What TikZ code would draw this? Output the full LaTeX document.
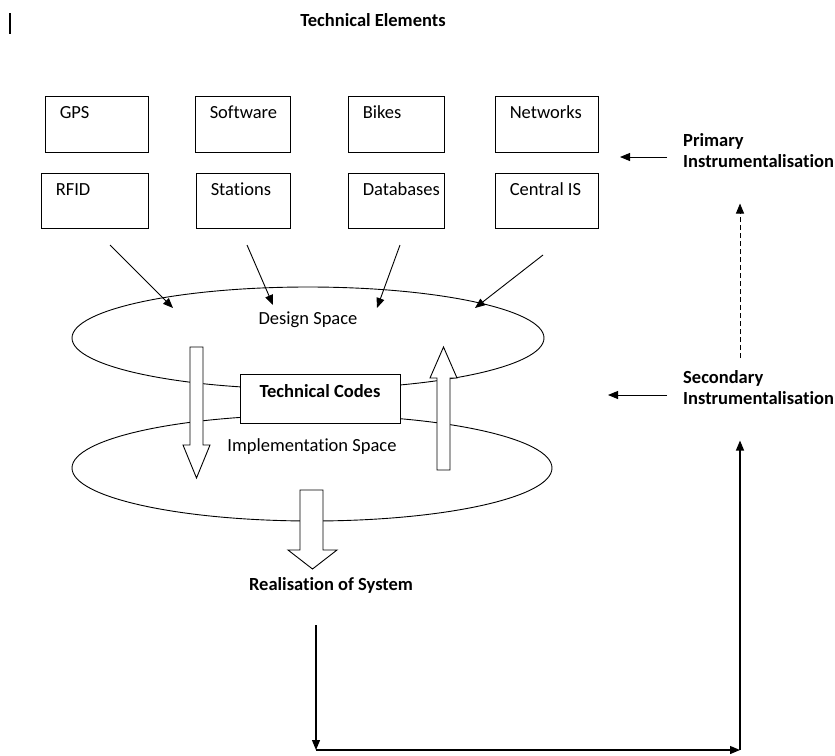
\documentclass[tikz,border=0pt]{standalone}
\usepackage{fontspec}
\setmainfont{Carlito}[Ligatures=NoCommon]
\usetikzlibrary{arrows.meta, shapes.geometric}

\tikzset{
  txt/.style={font=\fontsize{18.5}{21}\selectfont, inner sep=0pt},
  bold/.style={font=\fontsize{18.5}{21}\selectfont\bfseries, inner sep=0pt},
  elem/.style={draw, line width=0.9pt, minimum height=56pt, inner sep=0pt},
  elemtext/.style={txt, anchor=west, xshift=15pt, yshift=-17pt},
  space/.style={draw, ellipse, line width=0.9pt, inner sep=0pt},
  arr/.style={-{Triangle[length=10pt,width=8pt]}, line width=0.9pt},
  hollow/.style={draw, fill=white, line width=0.9pt},
}

\begin{document}
\begin{tikzpicture}[x=1pt, y=-1pt]
  \useasboundingbox (0,0) rectangle (835,755);
  \draw[line width=1.3pt] (10,13) -- (10,34);

  \node[bold] (title) at (373,20) {Technical Elements};

  % technical elements
  \node[elem, minimum width=103pt, label={[elemtext]north west:GPS}] (gps) at (96.5,124) {};
  \node[elem, minimum width=95pt, label={[elemtext]north west:Software}] (software) at (242.5,124) {};
  \node[elem, minimum width=96pt, label={[elemtext]north west:Bikes}] (bikes) at (396,124) {};
  \node[elem, minimum width=103pt, label={[elemtext]north west:Networks}] (networks) at (546.5,124) {};
  \node[elem, minimum width=107pt, minimum height=55pt, label={[elemtext]north west:RFID}] (rfid) at (94.5,200.5) {};
  \node[elem, minimum width=94pt, minimum height=55pt, label={[elemtext]north west:Stations}] (stations) at (243,200.5) {};
  \node[elem, minimum width=96pt, minimum height=55pt, label={[elemtext]north west:Databases}] (databases) at (396,200.5) {};
  \node[elem, minimum width=103pt, minimum height=55pt, label={[elemtext]north west:Central IS}] (central) at (546.5,200.5) {};

  % spaces
  \node[space, minimum width=472pt, minimum height=102pt,
        label={[txt, yshift=18pt]center:Design Space}] (design) at (308,338) {};
  \node[space, minimum width=480pt, minimum height=106pt,
        label={[txt, yshift=21pt]center:Implementation Space}] (impl) at (312,468) {};

  \coordinate (in1) at (110,245);  \coordinate (out1) at (173,308);
  \coordinate (in2) at (247,245);  \coordinate (out2) at (273,305);
  \coordinate (in3) at (400,245);  \coordinate (out3) at (377,308);
  \coordinate (in4) at (543,255);  \coordinate (out4) at (475,308);
  \draw[arr] (in1) -- (out1);
  \draw[arr] (in2) -- (out2);
  \draw[arr] (in3) -- (out3);
  \draw[arr] (in4) -- (out4);

  \node[draw, fill=white, line width=0.9pt, bold, minimum width=160pt, minimum height=49pt,
        text height=13pt, text depth=15pt] (codes) at (320,398.5) {Technical Codes};

  % hollow arrows
  \draw[hollow] (190,347) -- (203,347) -- (203,445) -- (210,445) -- (196.5,478)
    -- (183,445) -- (190,445) -- cycle;
  \draw[hollow] (437,470) -- (450,470) -- (450,378) -- (457,378) -- (443.5,347)
    -- (430,378) -- (437,378) -- cycle;
  \draw[hollow] (300,490) -- (323,490) -- (323,550) -- (337,550) -- (312.5,569)
    -- (288,550) -- (300,550) -- cycle;

  \node[bold] (real) at (331,585) {Realisation of System};

  % instrumentalisation
  \node[bold, align=left, anchor=north west] (prim) at (683,133) {Primary\\Instrumentalisation};
  \node[bold, align=left, anchor=north west] (sec) at (683,370) {Secondary\\Instrumentalisation};

  \coordinate (ptip) at (620,157);
  \coordinate (stip) at (608,395);
  \draw[arr, shorten <=16pt] (prim.west |- ptip) -- (ptip);
  \draw[arr, shorten <=16pt] (sec.west |- stip) -- (stip);
  \draw[arr, dash pattern=on 5pt off 3pt] ([xshift=57pt, yshift=12pt]sec.north west)
    -- ([xshift=57pt, yshift=-36pt]prim.south west);

  % feedback loop
  \coordinate (bl) at (316,750);
  \coordinate (br) at (740,750);
  \draw[arr, line width=1.2pt, shorten <=32pt] (real.south -| bl) -- (bl);
  \draw[arr, line width=1.2pt] (bl) -- (br);
  \draw[arr, line width=1.2pt, shorten >=36pt] (br) -- (sec.south -| br);
\end{tikzpicture}
\end{document}
